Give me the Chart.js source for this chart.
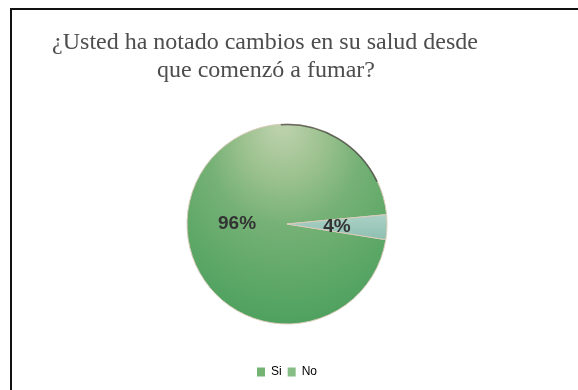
<!DOCTYPE html>
<html>
<head>
<meta charset="utf-8">
<script src="https://cdn.jsdelivr.net/npm/chart.js@4/dist/chart.umd.min.js"></script>
<style>
  html, body { margin: 0; padding: 0; background: #fff; }
  #wrap { position: relative; width: 578px; height: 390px; overflow: hidden; }
  #frame { position: absolute; left: 10px; top: 8px; width: 600px; height: 420px; border: 2px solid #111; box-sizing: border-box; }
  #myCanvas { position: absolute; left: 0; top: 0; }
</style>
</head>
<body>
<div id="wrap">
  <div id="frame"></div>
  <canvas id="myCanvas" width="578" height="390"></canvas>
</div>
<script>
var titleLines = ["¿Usted ha notado cambios en su salud desde", "que comenzó a fumar?"];
var labels = ["Si", "No"];
var values = [96, 4];

// green shading for "Si", pale teal for "No"
function sliceColor(context) {
    var chart = context.chart;
    var area = chart.chartArea;
    if (!area) return '#6aab6e';
    var ctx = chart.ctx;
    var cx = (area.left + area.right) / 2, cy = (area.top + area.bottom) / 2;
    if (context.dataIndex == 1) {
        var g2 = ctx.createLinearGradient(cx, cy - 15, cx, cy + 15);
        g2.addColorStop(0, '#b2d4ca');
        g2.addColorStop(1, '#8fc0b2');
        return g2;
    }
    var g = ctx.createRadialGradient(cx - 5, cy - 100, 5, cx, cy - 40, 160);
    g.addColorStop(0, '#bcd1ab');
    g.addColorStop(0.22, '#9dc290');
    g.addColorStop(0.45, '#76b176');
    g.addColorStop(0.72, '#5ea867');
    g.addColorStop(1, '#479d5c');
    return g;
}

var titlePlugin = {
    id: 'twoLineTitle',
    afterDraw: function (chart) {
        var ctx = chart.ctx;
        ctx.save();
        ctx.font = '24px "Liberation Serif", "Times New Roman", serif';
        ctx.fillStyle = '#4d4d4d';
        ctx.textAlign = 'center';
        ctx.textBaseline = 'alphabetic';
        ctx.fillText(titleLines[0], 265, 49);
        ctx.fillText(titleLines[1], 266, 77);
        ctx.restore();
    }
};

var valuePlugin = {
    id: 'sliceValues',
    afterDatasetsDraw: function (chart) {
        var ctx = chart.ctx;
        var meta = chart.getDatasetMeta(0);
        ctx.save();
        // dark rim along the upper right edge
        var arc0 = meta.data[0];
        ctx.beginPath();
        ctx.arc(arc0.x, arc0.y, arc0.outerRadius - 0.5, -Math.PI * 0.52, -Math.PI * 0.14);
        ctx.strokeStyle = 'rgba(60,60,60,0.7)';
        ctx.lineWidth = 1.5;
        ctx.stroke();

        ctx.font = 'bold 19px "Liberation Sans", Arial, sans-serif';
        ctx.fillStyle = '#333';
        ctx.textAlign = 'center';
        ctx.textBaseline = 'middle';
        meta.data.forEach(function (arc, i) {
            var mid = (arc.startAngle + arc.endAngle) / 2;
            var r = arc.outerRadius * 0.5;
            ctx.fillText(values[i] + '%', arc.x + Math.cos(mid) * r, arc.y + Math.sin(mid) * r + 1);
        });
        ctx.restore();
    }
};

var myChart = document.getElementById("myCanvas").getContext('2d');
var pieChart = new Chart(myChart, {
    type: 'pie',
    data: {
        labels: labels,
        datasets: [{
            data: values,
            backgroundColor: sliceColor,
            borderColor: ['#d9cbb9', '#d9cbb9'],
            borderWidth: 1
        }]
    },
    options: {
        responsive: false,
        animation: false,
        rotation: 99,
        radius: 100,
        layout: { padding: { top: 88, bottom: 2, left: 0, right: 4 } },
        plugins: {
            tooltip: { enabled: false },
            legend: {
                position: 'bottom',
                labels: {
                    boxWidth: 8,
                    boxHeight: 9,
                    padding: 6,
                    color: '#555',
                    font: { size: 12, family: '"Liberation Sans", Arial, sans-serif' },
                    generateLabels: function (chart) {
                        var fills = ['#74b374', '#86bd84'];
                        return labels.map(function (l, i) {
                            return { text: l, fillStyle: fills[i], strokeStyle: 'rgba(0,0,0,0)', lineWidth: 0, index: i };
                        });
                    }
                }
            }
        }
    },
    plugins: [titlePlugin, valuePlugin]
});
</script>
</body>
</html>
